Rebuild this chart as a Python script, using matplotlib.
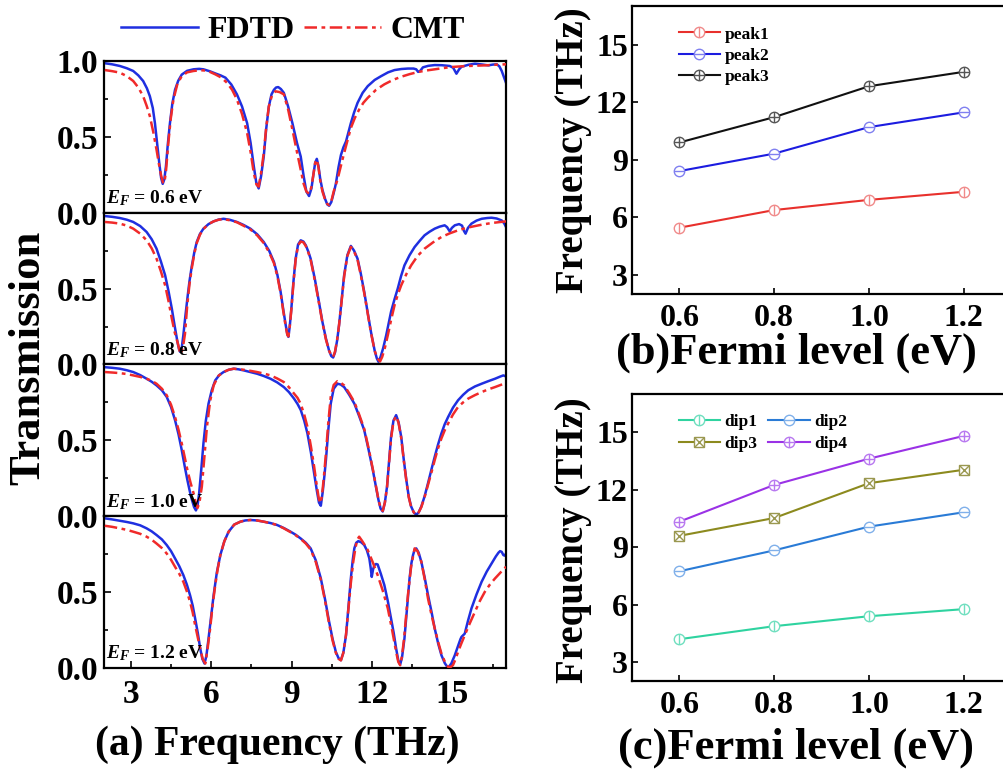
import numpy as np
import matplotlib
matplotlib.use('Agg')
from matplotlib import pyplot as plt
from matplotlib.legend_handler import HandlerTuple

plt.rcParams['font.family'] = 'Liberation Serif'
plt.rcParams['font.weight'] = 'bold'
plt.rcParams['mathtext.fontset'] = 'custom'
plt.rcParams['mathtext.rm'] = 'Liberation Serif:bold'
plt.rcParams['mathtext.it'] = 'Liberation Serif:italic:bold'
plt.rcParams['mathtext.bf'] = 'Liberation Serif:bold'

# ---- transmission spectra, (frequency THz, T) ----
ef_labels = ['0.6', '0.8', '1.0', '1.2']

fdtd_06 = [(2.03,0.985),(2.3,0.978),(2.59,0.967),(2.85,0.952),(3.09,0.934),(3.28,0.905),(3.46,0.868),(3.60,0.82),
           (3.71,0.768),(3.82,0.69),(3.90,0.59),(3.98,0.46),(4.06,0.33),(4.13,0.23),(4.19,0.19),(4.25,0.22),
           (4.31,0.305),(4.38,0.45),(4.46,0.59),(4.55,0.72),(4.65,0.81),(4.77,0.87),(4.90,0.91),(5.10,0.935),
           (5.34,0.945),(5.55,0.948),(5.71,0.945),(5.95,0.932),(6.15,0.918),(6.35,0.905),(6.53,0.89),(6.75,0.845),
           (6.96,0.78),(7.15,0.70),(7.34,0.59),(7.47,0.46),(7.59,0.305),(7.68,0.20),(7.77,0.16),(7.86,0.24),
           (7.96,0.37),(8.05,0.55),(8.15,0.70),(8.25,0.78),(8.34,0.81),(8.42,0.825),(8.50,0.828),(8.60,0.815),
           (8.71,0.79),(8.87,0.70),(9.03,0.59),(9.20,0.46),(9.34,0.37),(9.45,0.24),(9.55,0.14),(9.65,0.11),
           (9.74,0.16),(9.82,0.26),(9.88,0.33),(9.94,0.355),(10.00,0.31),(10.07,0.22),(10.15,0.15),(10.25,0.09),
           (10.33,0.055),(10.40,0.046),(10.48,0.07),(10.57,0.13),(10.65,0.19),(10.75,0.30),(10.84,0.38),
           (10.93,0.43),(11.03,0.47),(11.12,0.53),(11.21,0.59),(11.33,0.66),(11.46,0.724),(11.65,0.79),
           (11.84,0.834),(12.1,0.875),(12.34,0.90),(12.6,0.925),(12.84,0.94),(13.1,0.947),(13.34,0.95),
           (13.55,0.95),(13.65,0.945),(13.72,0.928),(13.80,0.935),(13.90,0.958),(14.1,0.968),(14.34,0.973),
           (14.6,0.972),(14.90,0.967),(15.03,0.955),(15.15,0.916),(15.25,0.945),(15.34,0.962),(15.6,0.975),
           (15.84,0.982),(16.1,0.977),(16.34,0.971),(16.5,0.976),(16.65,0.978),(16.75,0.965),(16.84,0.934),
           (16.93,0.89),(17.0,0.856)]
cmt_06 = [(2.03,0.94),(2.3,0.933),(2.59,0.923),(2.85,0.9),(3.09,0.868),(3.28,0.825),(3.46,0.768),(3.60,0.70),
          (3.71,0.636),(3.84,0.53),(3.96,0.415),(4.05,0.32),(4.13,0.245),(4.20,0.20),(4.25,0.195),(4.31,0.27),
          (4.40,0.46),(4.49,0.62),(4.59,0.746),(4.74,0.85),(4.90,0.90),(5.10,0.925),(5.34,0.934),(5.55,0.938),
          (5.71,0.938),(5.95,0.928),(6.15,0.912),(6.38,0.89),(6.59,0.856),(6.78,0.81),(6.96,0.746),(7.15,0.65),
          (7.34,0.525),(7.47,0.40),(7.59,0.26),(7.69,0.185),(7.77,0.172),(7.86,0.26),(7.96,0.393),(8.05,0.56),
          (8.15,0.70),(8.27,0.775),(8.40,0.80),(8.55,0.795),(8.71,0.78),(8.87,0.68),(9.03,0.548),(9.20,0.40),
          (9.34,0.283),(9.45,0.19),(9.55,0.14),(9.65,0.125),(9.74,0.17),(9.82,0.26),(9.88,0.33),(9.94,0.35),
          (10.00,0.30),(10.07,0.21),(10.15,0.14),(10.25,0.085),(10.33,0.058),(10.40,0.05),(10.48,0.075),
          (10.57,0.14),(10.71,0.217),(10.84,0.31),(10.96,0.393),(11.09,0.48),(11.21,0.558),(11.36,0.625),
          (11.52,0.68),(11.68,0.725),(11.84,0.757),(12.15,0.81),(12.46,0.846),(12.78,0.875),(13.09,0.896),
          (13.4,0.913),(13.71,0.927),(14.02,0.937),(14.34,0.945),(14.65,0.953),(14.96,0.96),(15.28,0.964),
          (15.59,0.967),(16.21,0.971),(16.6,0.975),(17.0,0.978)]

fdtd_08 = [(2.03,0.978),(2.3,0.973),(2.59,0.965),(2.85,0.954),(3.09,0.939),(3.35,0.912),(3.59,0.873),(3.78,0.825),
           (3.96,0.763),(4.12,0.68),(4.28,0.588),(4.41,0.48),(4.53,0.368),(4.64,0.25),(4.74,0.149),(4.80,0.10),
           (4.84,0.083),(4.90,0.11),(4.96,0.193),(5.03,0.31),(5.11,0.434),(5.19,0.55),(5.28,0.653),(5.37,0.74),
           (5.46,0.807),(5.58,0.86),(5.71,0.895),(5.90,0.925),(6.09,0.943),(6.28,0.955),(6.46,0.96),(6.7,0.953),
           (6.96,0.939),(7.2,0.92),(7.46,0.895),(7.72,0.857),(7.96,0.807),(8.16,0.75),(8.34,0.676),(8.47,0.59),
           (8.59,0.478),(8.69,0.36),(8.78,0.259),(8.84,0.20),(8.88,0.182),(8.93,0.25),(8.99,0.368),(9.07,0.55),
           (9.15,0.697),(9.24,0.79),(9.34,0.818),(9.44,0.81),(9.53,0.785),(9.62,0.745),(9.71,0.697),(9.87,0.56),
           (10.02,0.412),(10.15,0.28),(10.28,0.171),(10.40,0.09),(10.48,0.055),(10.55,0.046),(10.62,0.08),
           (10.70,0.16),(10.77,0.259),(10.87,0.43),(10.96,0.588),(11.08,0.72),(11.21,0.781),(11.33,0.75),
           (11.46,0.697),(11.58,0.60),(11.71,0.478),(11.84,0.34),(11.96,0.215),(12.10,0.09),(12.18,0.04),
           (12.24,0.018),(12.32,0.05),(12.42,0.11),(12.53,0.193),(12.62,0.27),(12.71,0.347),(12.84,0.43),
           (12.96,0.50),(13.08,0.58),(13.21,0.653),(13.40,0.72),(13.59,0.774),(13.78,0.815),(13.96,0.851),
           (14.15,0.875),(14.34,0.895),(14.52,0.908),(14.71,0.917),(14.80,0.905),(14.90,0.877),(14.98,0.9),
           (15.09,0.917),(15.25,0.925),(15.36,0.915),(15.43,0.88),(15.49,0.862),(15.58,0.9),(15.71,0.928),
           (15.9,0.948),(16.09,0.96),(16.3,0.965),(16.46,0.967),(16.65,0.962),(16.84,0.949),(16.93,0.93),
           (17.0,0.906)]
cmt_08 = [(2.03,0.939),(2.3,0.935),(2.59,0.928),(2.85,0.915),(3.09,0.895),(3.35,0.862),(3.59,0.818),(3.78,0.765),
          (3.96,0.697),(4.12,0.615),(4.28,0.522),(4.41,0.415),(4.53,0.303),(4.64,0.21),(4.74,0.149),(4.82,0.09),
          (4.88,0.07),(4.95,0.12),(5.02,0.2),(5.11,0.40),(5.19,0.53),(5.28,0.64),(5.37,0.73),(5.46,0.80),
          (5.58,0.855),(5.71,0.893),(5.90,0.925),(6.09,0.943),(6.28,0.954),(6.46,0.958),(6.7,0.95),(6.96,0.937),
          (7.2,0.915),(7.46,0.89),(7.72,0.85),(7.96,0.80),(8.16,0.74),(8.34,0.668),(8.47,0.58),(8.59,0.47),
          (8.69,0.35),(8.78,0.25),(8.84,0.195),(8.88,0.185),(8.93,0.25),(8.99,0.36),(9.07,0.54),(9.15,0.69),
          (9.24,0.785),(9.34,0.81),(9.44,0.805),(9.53,0.78),(9.62,0.74),(9.71,0.69),(9.87,0.55),(10.02,0.405),
          (10.15,0.275),(10.28,0.165),(10.40,0.09),(10.48,0.06),(10.55,0.05),(10.62,0.085),(10.70,0.165),
          (10.77,0.26),(10.87,0.425),(10.96,0.58),(11.08,0.715),(11.21,0.775),(11.33,0.745),(11.46,0.69),
          (11.58,0.59),(11.71,0.47),(11.84,0.335),(11.96,0.21),(12.10,0.09),(12.20,0.04),(12.30,0.02),
          (12.38,0.05),(12.48,0.11),(12.59,0.193),(12.72,0.30),(12.84,0.39),(12.96,0.46),(13.09,0.522),
          (13.28,0.595),(13.46,0.653),(13.7,0.715),(13.96,0.763),(14.28,0.805),(14.59,0.84),(14.9,0.864),
          (15.21,0.884),(15.52,0.9),(15.84,0.912),(16.15,0.923),(16.46,0.932),(16.75,0.938),(17.0,0.943)]

fdtd_10 = [(2.03,0.982),(2.3,0.978),(2.59,0.972),(2.85,0.962),(3.09,0.95),(3.35,0.93),(3.59,0.906),(3.78,0.886),
           (3.96,0.862),(4.16,0.83),(4.34,0.786),(4.50,0.72),(4.65,0.633),(4.78,0.54),(4.90,0.436),(5.01,0.33),
           (5.11,0.239),(5.20,0.165),(5.28,0.108),(5.36,0.06),(5.43,0.038),(5.49,0.07),(5.55,0.152),(5.63,0.31),
           (5.71,0.48),(5.80,0.63),(5.90,0.742),(6.02,0.83),(6.15,0.895),(6.30,0.93),(6.46,0.95),(6.65,0.965),
           (6.84,0.972),(7.02,0.968),(7.21,0.961),(7.46,0.95),(7.71,0.939),(7.96,0.924),(8.21,0.906),(8.46,0.882),
           (8.71,0.851),(8.90,0.818),(9.09,0.775),(9.22,0.74),(9.34,0.70),(9.47,0.63),(9.59,0.546),(9.72,0.42),
           (9.84,0.283),(9.94,0.17),(10.02,0.09),(10.09,0.069),(10.16,0.16),(10.22,0.26),(10.28,0.37),
           (10.37,0.57),(10.46,0.742),(10.57,0.84),(10.71,0.873),(10.83,0.868),(10.96,0.851),(11.15,0.80),
           (11.34,0.742),(11.52,0.66),(11.71,0.567),(11.87,0.44),(12.03,0.305),(12.14,0.20),(12.24,0.108),
           (12.32,0.05),(12.40,0.031),(12.48,0.09),(12.56,0.195),(12.64,0.37),(12.71,0.523),(12.80,0.63),
           (12.90,0.666),(12.99,0.62),(13.09,0.523),(13.18,0.38),(13.28,0.239),(13.37,0.13),(13.46,0.064),
           (13.56,0.025),(13.65,0.01),(13.74,0.025),(13.84,0.064),(13.96,0.13),(14.09,0.218),(14.22,0.31),
           (14.34,0.392),(14.46,0.47),(14.59,0.546),(14.71,0.605),(14.84,0.654),(15.02,0.715),(15.21,0.764),
           (15.40,0.8),(15.59,0.83),(15.84,0.855),(16.09,0.873),(16.34,0.89),(16.59,0.906),(16.78,0.92),
           (16.9,0.928),(17.0,0.921)]
cmt_10 = [(2.03,0.95),(2.3,0.947),(2.59,0.943),(2.85,0.937),(3.09,0.928),(3.35,0.918),(3.59,0.906),(3.78,0.892),
          (3.96,0.873),(4.16,0.84),(4.34,0.797),(4.50,0.735),(4.65,0.654),(4.78,0.57),(4.90,0.48),(5.01,0.39),
          (5.11,0.305),(5.23,0.22),(5.34,0.152),(5.42,0.09),(5.49,0.054),(5.56,0.09),(5.65,0.195),(5.74,0.38),
          (5.84,0.589),(5.96,0.76),(6.09,0.862),(6.27,0.925),(6.46,0.95),(6.65,0.965),(6.84,0.972),(7.02,0.969),
          (7.21,0.965),(7.46,0.958),(7.71,0.95),(7.96,0.94),(8.21,0.928),(8.46,0.908),(8.71,0.884),(8.90,0.85),
          (9.09,0.808),(9.22,0.78),(9.34,0.74),(9.47,0.67),(9.59,0.589),(9.72,0.46),(9.84,0.327),(9.94,0.20),
          (10.02,0.11),(10.09,0.087),(10.16,0.18),(10.22,0.29),(10.28,0.414),(10.37,0.62),(10.46,0.786),
          (10.57,0.865),(10.71,0.89),(10.83,0.88),(10.96,0.862),(11.15,0.81),(11.34,0.753),(11.52,0.67),
          (11.71,0.575),(11.87,0.45),(12.03,0.31),(12.14,0.205),(12.24,0.11),(12.32,0.055),(12.40,0.035),
          (12.48,0.09),(12.56,0.19),(12.64,0.36),(12.71,0.51),(12.80,0.625),(12.90,0.66),(12.99,0.615),
          (13.09,0.515),(13.18,0.375),(13.28,0.235),(13.37,0.125),(13.46,0.06),(13.56,0.025),(13.65,0.01),
          (13.74,0.025),(13.84,0.06),(13.96,0.125),(14.09,0.207),(14.22,0.29),(14.34,0.37),(14.46,0.445),
          (14.59,0.513),(14.71,0.565),(14.84,0.611),(15.02,0.67),(15.21,0.72),(15.40,0.75),(15.59,0.775),
          (15.84,0.798),(16.09,0.818),(16.34,0.836),(16.59,0.851),(16.8,0.865),(17.0,0.877)]

fdtd_12 = [(2.03,0.986),(2.3,0.979),(2.59,0.97),(2.85,0.962),(3.09,0.953),(3.35,0.94),(3.59,0.92),(3.78,0.9),
           (3.96,0.876),(4.16,0.847),(4.34,0.81),(4.50,0.77),(4.65,0.722),(4.81,0.67),(4.96,0.612),(5.09,0.55),
           (5.21,0.48),(5.31,0.41),(5.40,0.326),(5.50,0.23),(5.59,0.128),(5.67,0.06),(5.75,0.029),(5.82,0.08),
           (5.90,0.194),(5.99,0.33),(6.09,0.48),(6.21,0.63),(6.34,0.744),(6.49,0.835),(6.65,0.898),(6.86,0.945),
           (7.09,0.964),(7.27,0.972),(7.46,0.975),(7.71,0.972),(7.96,0.964),(8.21,0.955),(8.46,0.942),
           (8.71,0.922),(8.96,0.898),(9.15,0.878),(9.34,0.853),(9.53,0.825),(9.71,0.788),(9.90,0.71),(10.09,0.59),
           (10.25,0.45),(10.40,0.304),(10.53,0.19),(10.65,0.106),(10.75,0.065),(10.84,0.051),(10.93,0.10),
           (11.03,0.216),(11.12,0.40),(11.21,0.59),(11.28,0.71),(11.34,0.788),(11.41,0.825),(11.49,0.836),
           (11.60,0.828),(11.71,0.81),(11.81,0.775),(11.90,0.722),(11.95,0.66),(11.99,0.60),(12.04,0.65),
           (12.09,0.678),(12.15,0.685),(12.21,0.682),(12.33,0.62),(12.46,0.546),(12.59,0.44),(12.71,0.326),
           (12.81,0.23),(12.90,0.128),(12.98,0.05),(13.05,0.022),(13.12,0.07),(13.21,0.194),(13.30,0.38),
           (13.40,0.59),(13.47,0.69),(13.53,0.744),(13.59,0.78),(13.65,0.788),(13.74,0.76),(13.84,0.70),
           (13.96,0.60),(14.09,0.48),(14.22,0.37),(14.34,0.26),(14.47,0.16),(14.59,0.084),(14.72,0.03),
           (14.84,0.0),(14.96,0.03),(15.09,0.084),(15.22,0.15),(15.30,0.19),(15.34,0.205),(15.46,0.226),
           (15.58,0.31),(15.71,0.392),(15.90,0.485),(16.09,0.568),(16.28,0.635),(16.46,0.688),(16.62,0.735),
           (16.72,0.76),(16.78,0.77),(16.84,0.765),(16.90,0.744),(16.95,0.74),(17.0,0.754)]
cmt_12 = [(2.03,0.937),(2.3,0.93),(2.59,0.92),(2.85,0.91),(3.09,0.898),(3.35,0.884),(3.59,0.865),(3.78,0.845),
          (3.96,0.82),(4.16,0.79),(4.34,0.754),(4.50,0.713),(4.65,0.667),(4.81,0.62),(4.96,0.568),(5.09,0.505),
          (5.21,0.436),(5.31,0.365),(5.40,0.282),(5.50,0.20),(5.59,0.128),(5.68,0.06),(5.78,0.029),(5.86,0.12),
          (5.96,0.26),(6.05,0.41),(6.15,0.546),(6.24,0.65),(6.34,0.744),(6.49,0.835),(6.65,0.898),(6.86,0.945),
          (7.09,0.964),(7.27,0.972),(7.46,0.975),(7.71,0.972),(7.96,0.964),(8.21,0.954),(8.46,0.942),(8.71,0.92),
          (8.96,0.895),(9.15,0.875),(9.34,0.85),(9.53,0.82),(9.71,0.78),(9.90,0.70),(10.09,0.58),(10.25,0.44),
          (10.40,0.29),(10.53,0.18),(10.65,0.10),(10.75,0.06),(10.84,0.05),(10.93,0.10),(11.03,0.22),
          (11.12,0.39),(11.21,0.56),(11.30,0.70),(11.38,0.79),(11.45,0.845),(11.52,0.865),(11.62,0.84),
          (11.73,0.81),(11.84,0.777),(12.02,0.70),(12.21,0.612),(12.40,0.51),(12.59,0.392),(12.75,0.25),
          (12.90,0.106),(12.98,0.04),(13.05,0.018),(13.12,0.08),(13.20,0.2),(13.27,0.34),(13.34,0.48),
          (13.46,0.67),(13.59,0.788),(13.70,0.77),(13.84,0.70),(13.96,0.59),(14.09,0.457),(14.22,0.35),
          (14.34,0.26),(14.47,0.17),(14.59,0.095),(14.72,0.04),(14.84,0.007),(14.93,0.006),(15.02,0.018),
          (15.11,0.055),(15.21,0.106),(15.33,0.16),(15.46,0.216),(15.65,0.295),(15.84,0.37),(16.02,0.44),
          (16.21,0.502),(16.40,0.55),(16.59,0.59),(16.8,0.63),(17.0,0.667)]

fdtd_all = [fdtd_06, fdtd_08, fdtd_10, fdtd_12]
cmt_all = [cmt_06, cmt_08, cmt_10, cmt_12]

# ---- resonance frequencies vs Fermi level ----
fermi = [0.6, 0.8, 1.0, 1.2]
peak1 = [5.46, 6.38, 6.91, 7.33]
peak2 = [8.41, 9.32, 10.70, 11.47]
peak3 = [9.90, 11.22, 12.83, 13.58]
dip1 = [4.19, 4.87, 5.39, 5.76]
dip2 = [7.74, 8.83, 10.07, 10.82]
dip3 = [9.59, 10.52, 12.34, 13.04]
dip4 = [10.33, 12.25, 13.62, 14.81]

fig = plt.figure(figsize=(10.04, 7.74), dpi=100)

# ---------------- (a) stacked spectra ----------------
ph = 151.75 / 774
axs = []
for k in range(4):
    ax = fig.add_axes([0.1036, 0.137 + (3 - k) * ph, 0.4004, ph])
    f = np.array(fdtd_all[k])
    c = np.array(cmt_all[k])
    l1, = ax.plot(f[:, 0], f[:, 1], color='#1f2fe0', lw=1.8, label='FDTD', zorder=2)
    l2, = ax.plot(c[:, 0], c[:, 1], color='#f02a2a', lw=1.8, dashes=(5, 1.8, 1.5, 1.8), label='CMT', zorder=3)
    ax.set_xlim(2, 17)
    ax.set_ylim(0, 1.0)
    ax.set_yticks([0, 0.5, 1.0] if k == 0 else [0, 0.5])
    ax.set_yticklabels(['0.0', '0.5', '1.0'] if k == 0 else ['0.0', '0.5'])
    ax.set_yticks([0.25, 0.75], minor=True)
    ax.set_xticks([3, 6, 9, 12, 15])
    ax.set_xticks([4.5, 7.5, 10.5, 13.5, 16.5], minor=True)
    ax.tick_params(which='both', direction='in', width=1.2, labelsize=24, pad=4)
    ax.tick_params(which='major', length=5)
    ax.tick_params(which='minor', length=3)
    if k < 3:
        ax.tick_params(axis='x', which='both', bottom=False, labelbottom=False)
    else:
        ax.tick_params(axis='x', pad=8)
    for s in ax.spines.values():
        s.set_linewidth(1.6)
    ax.text(0.004, 0.03, r'$E_F$ = ' + ef_labels[k] + ' eV', transform=ax.transAxes,
            fontsize=14, ha='left', va='bottom', zorder=5)
    axs.append(ax)

axs[0].legend(handles=[l1, l2], loc='center', bbox_to_anchor=(0.47, 1.2), ncol=2, frameon=False,
              fontsize=23, handlelength=2.4, handletextpad=0.3, columnspacing=0.3, borderpad=0)

fig.text(0.028, 0.538, 'Transmission', rotation=90, ha='center', va='center', fontsize=32)
fig.text(0.276, 0.0375, '(a) Frequency (THz)', ha='center', va='center', fontsize=30)


# ---------------- (b), (c) resonance shifts ----------------
def trace(ax, y, color, edge, shape, inner, label):
    ax.plot(fermi, y, color=color, lw=1.5, marker=shape, ms=7.5, mfc='white', mec=edge, mew=1.0)
    ax.plot(fermi, y, ls='none', marker=inner, ms=7.5, mec=edge, mew=1.0)
    h1 = plt.Line2D([], [], color=color, lw=1.5, marker=shape, ms=7.5, mfc='white', mec=edge, mew=1.0)
    h2 = plt.Line2D([], [], ls='none', marker=inner, ms=7.5, mec=edge, mew=1.0)
    return (h1, h2), label


def style(ax):
    ax.set_xlim(0.5, 1.3)
    ax.set_ylim(2, 17)
    ax.set_xticks(fermi)
    ax.set_xticklabels(['0.6', '0.8', '1.0', '1.2'])
    ax.set_yticks([3, 6, 9, 12, 15])
    ax.tick_params(direction='in', length=4, width=1.2, labelsize=23)
    ax.tick_params(axis='x', pad=7)
    ax.tick_params(axis='y', pad=3)
    for s in ax.spines.values():
        s.set_linewidth(1.6)


ax_b = fig.add_axes([0.6295, 0.620, 0.3777, 0.372])
style(ax_b)
hb = [trace(ax_b, peak1, '#e8302c', '#f08a8a', 'o', '|', 'peak1'),
      trace(ax_b, peak2, '#1c1ce0', '#8080f0', 'o', '_', 'peak2'),
      trace(ax_b, peak3, '#111111', '#555555', 'o', '+', 'peak3')]
ax_b.legend([h for h, _ in hb], [t for _, t in hb], handler_map={tuple: HandlerTuple(ndivide=1)},
            loc='upper left', bbox_to_anchor=(0.1, 0.96), frameon=False, fontsize=12.5,
            handlelength=2.4, handletextpad=0.25, labelspacing=0.3, borderpad=0)

ax_c = fig.add_axes([0.6295, 0.120, 0.3777, 0.371])
style(ax_c)
hc = [trace(ax_c, dip1, '#2fd3a0', '#6fdfbf', 'o', '|', 'dip1'),
      trace(ax_c, dip2, '#2a7bd6', '#80b0ea', 'o', '_', 'dip2'),
      trace(ax_c, dip3, '#8c8a1e', '#9a9850', 's', 'x', 'dip3'),
      trace(ax_c, dip4, '#9a32e6', '#b878f0', 'o', '+', 'dip4')]
order = [0, 2, 1, 3]
ax_c.legend([hc[i][0] for i in order], [hc[i][1] for i in order],
            handler_map={tuple: HandlerTuple(ndivide=1)}, ncol=2,
            loc='upper left', bbox_to_anchor=(0.1, 0.96), frameon=False, fontsize=12.5,
            handlelength=2.4, handletextpad=0.25, labelspacing=0.3, columnspacing=0.6, borderpad=0)

fig.text(573 / 1004, 1 - 150 / 774, 'Frequency (THz)', rotation=90, ha='center', va='center', fontsize=28)
fig.text(573 / 1004, 1 - 540 / 774, 'Frequency (THz)', rotation=90, ha='center', va='center', fontsize=28)
fig.text(796 / 1004, 1 - 353 / 774, '(b)Fermi level (eV)', ha='center', va='center', fontsize=32)
fig.text(796 / 1004, 1 - 748 / 774, '(c)Fermi level (eV)', ha='center', va='center', fontsize=32)

fig.savefig('out.png', dpi=100)
